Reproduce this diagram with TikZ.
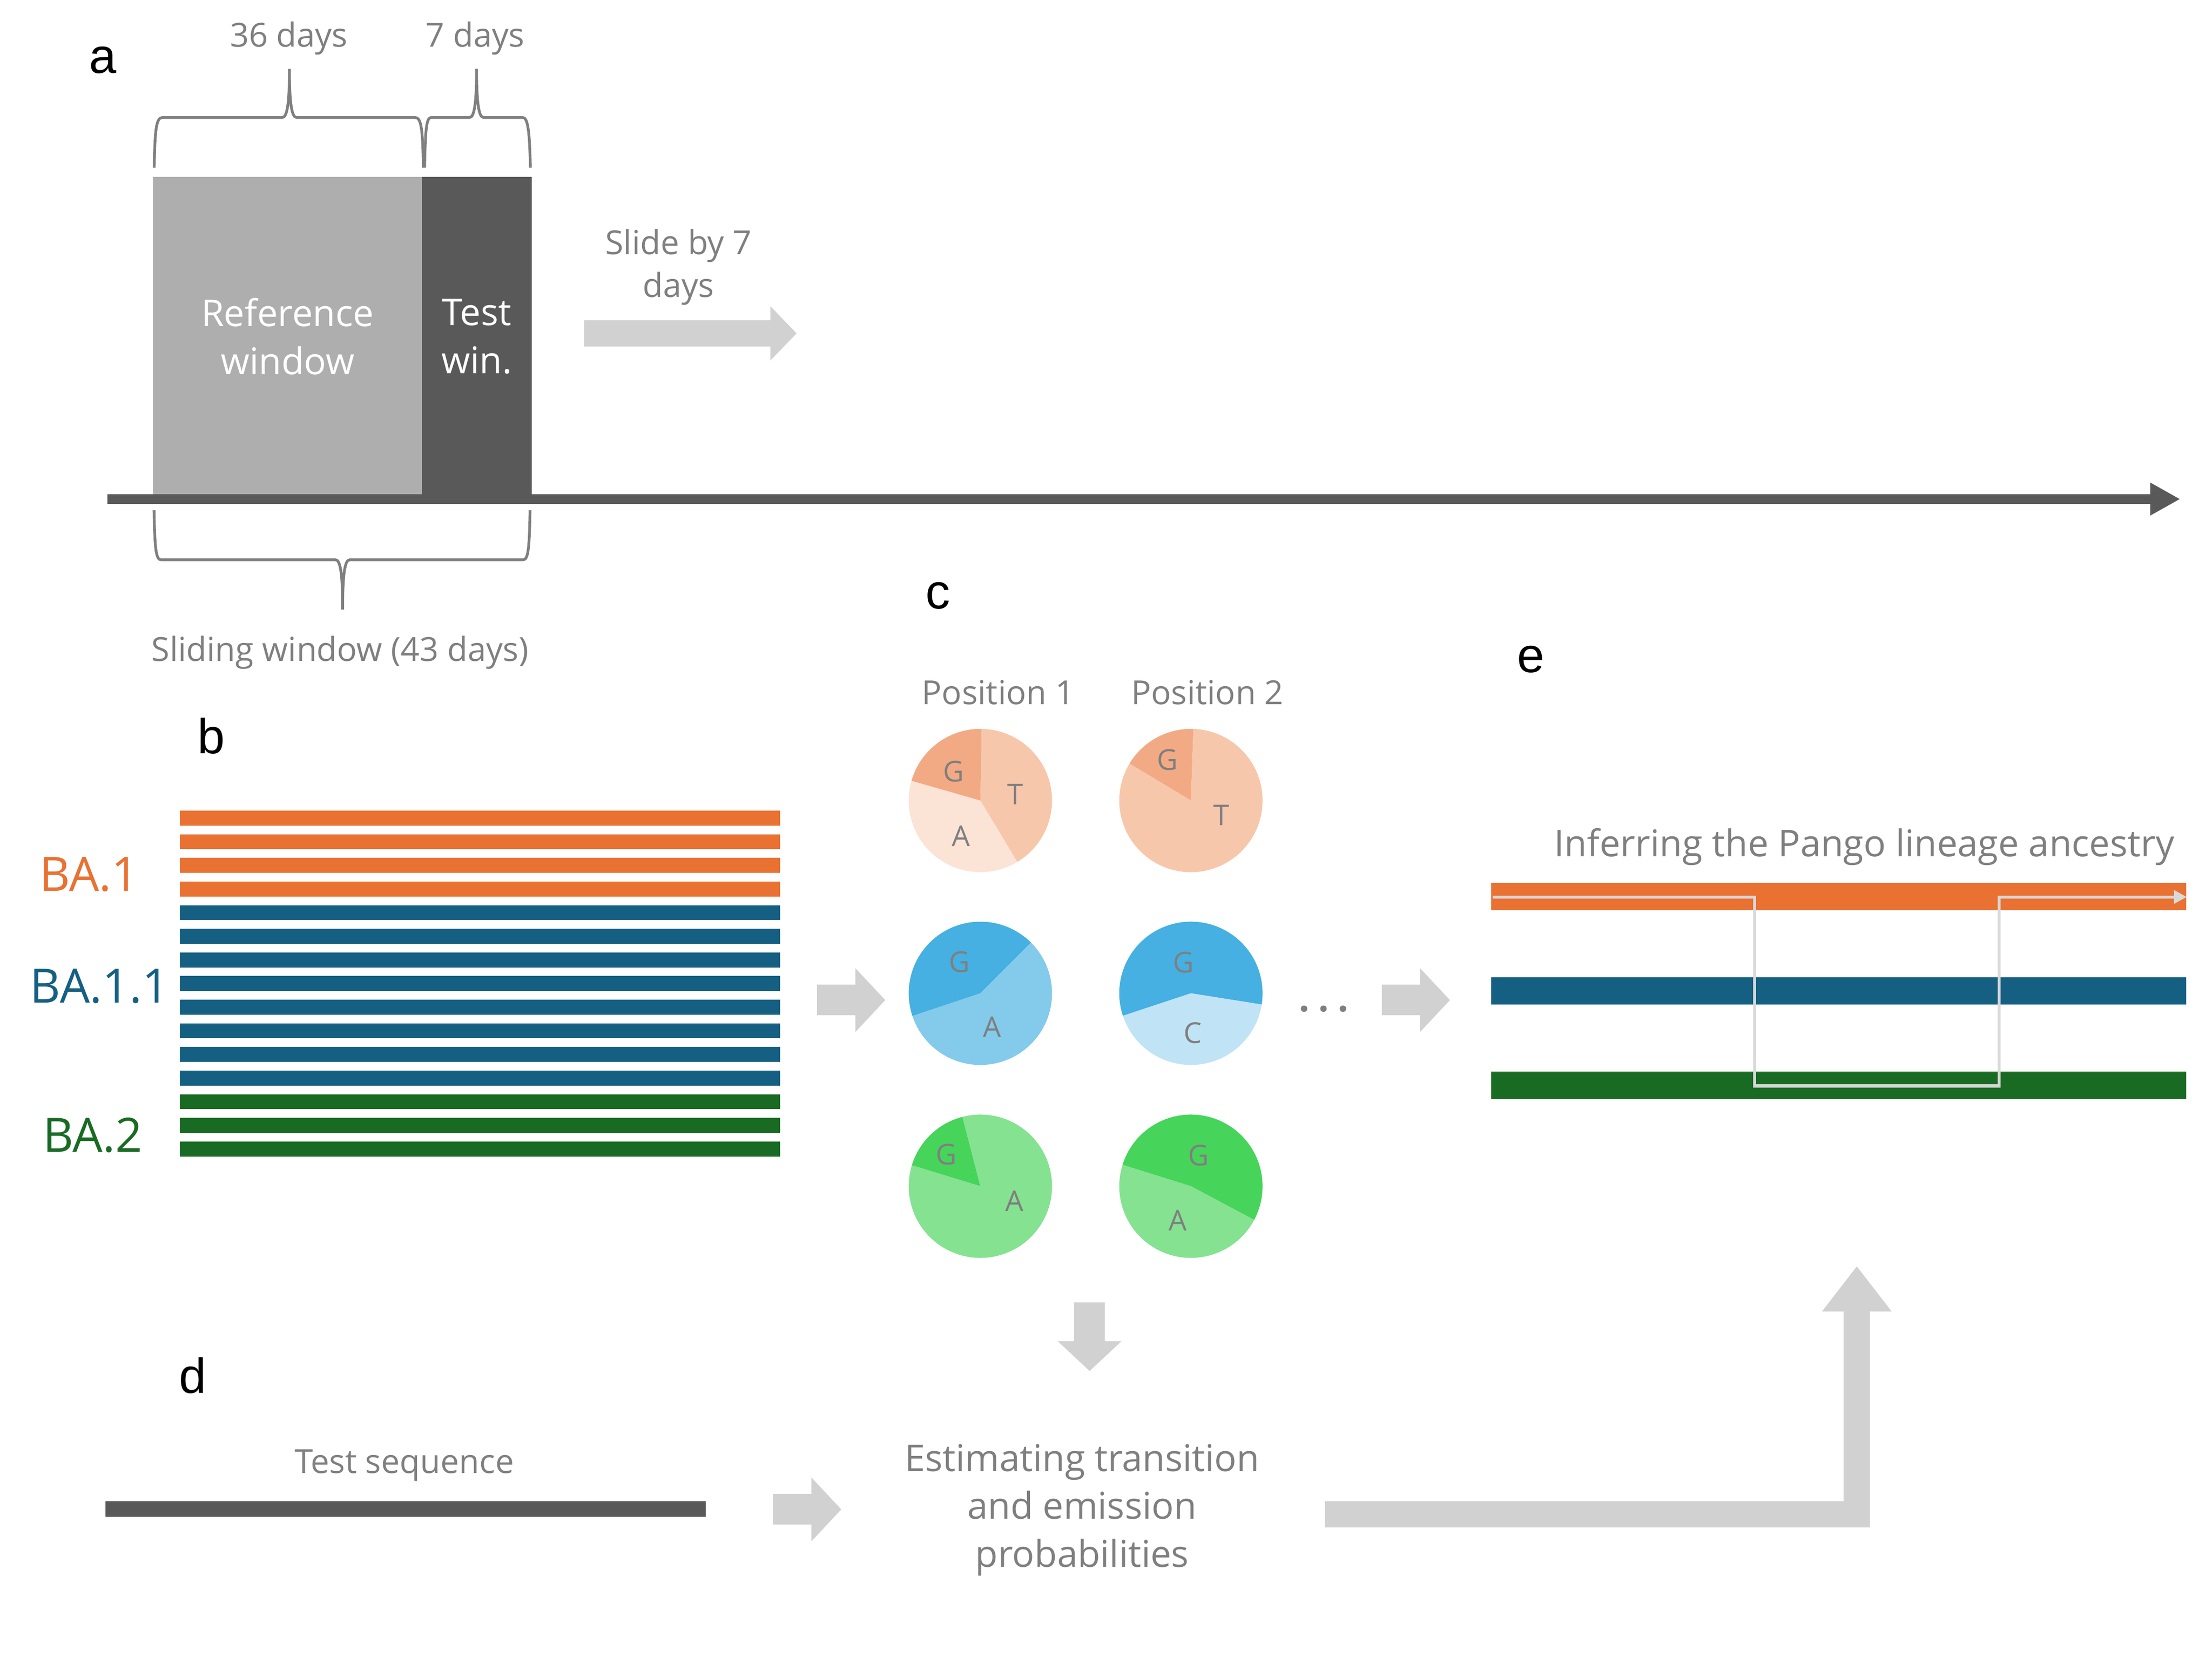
\documentclass[tikz,border=0pt]{standalone}
\usepackage{fontspec}
\setmainfont{Open Sans}
\newfontfamily\panelfont{Liberation Sans}
\usepackage{xcolor}
\usetikzlibrary{arrows.meta}

\definecolor{txtgray}{HTML}{7F7F7F}
\definecolor{winlight}{HTML}{AEAEAE}
\definecolor{windark}{HTML}{595959}
\definecolor{arrowgray}{HTML}{D1D1D1}
\definecolor{pathgray}{HTML}{D9D9D9}
\definecolor{ba1}{HTML}{E97132}
\definecolor{ba11}{HTML}{156082}
\definecolor{ba2}{HTML}{196B24}
\definecolor{or40}{HTML}{F2AA84}
\definecolor{or60}{HTML}{F7C7AC}
\definecolor{or80}{HTML}{FBE3D6}
\definecolor{bl40}{HTML}{45B0E1}
\definecolor{bl60}{HTML}{83CAEB}
\definecolor{bl80}{HTML}{C0E4F5}
\definecolor{gr40}{HTML}{47D45A}
\definecolor{gr60}{HTML}{84E291}

\begin{document}
\begin{tikzpicture}[x=0.2mm, y=-0.2mm,
    graytext/.style={text=txtgray, font=\fontsize{13.3}{17.1}\selectfont, inner sep=0pt, anchor=base},
    bigtext/.style={text=txtgray, font=\fontsize{14.8}{19.2}\selectfont, inner sep=0pt, align=center},
    panel/.style={font=\panelfont\fontsize{19.7}{23}\selectfont, inner sep=0pt, anchor=base},
    lineage/.style={font=\fontsize{19}{22}\selectfont, inner sep=0pt, anchor=base},
    pielabel/.style={text=txtgray, font=\fontsize{11.5}{14}\selectfont, inner sep=0pt},
    winbox/.style={rectangle, minimum height=44.92mm, inner sep=0pt, text=white, align=center, font=\fontsize{14.8}{19.3}\selectfont},
    daybrace/.style={draw=txtgray, line width=1.1pt},
    seqline/.style={line width=6pt},
    lanebar/.style={line width=10.9pt},
    fatarrow/.style={draw=arrowgray, line width=12.3pt, -{Triangle[length=12pt, width=24.9pt]}},
    slidearrow/.style={draw=arrowgray, line width=10.4pt, -{Triangle[length=10.5pt, width=21.1pt]}}
]
    \useasboundingbox (0,0) rectangle (1559.1,1172.7);

    % a: sliding window
    \node[panel] (la) at (72.5,51.4) {a};
    \node[winbox, fill=winlight, minimum width=37.88mm] (refwin) at (202.7,237.1) {Reference\\window};
    \node[winbox, fill=windark, minimum width=15.48mm] (testwin) at (336.1,237.1) {Test\\win.};
    \coordinate (timeS) at (75.7,351.8);
    \coordinate (timeE) at (1536.7,351.8);
    \draw[windark, line width=4pt, -{Triangle[length=12pt, width=12.3pt]}] (timeS) -- (timeE);

    \node[graytext] (d36) at (203.6,33.1) {36 days};
    \node[graytext] (d7) at (334.8,33.1) {7 days};
    \draw[daybrace] (108.7,118.2) .. controls (109.2,90) and (110.2,82.8) .. (114.7,82.8)
        -- (199,82.8) .. controls (202.5,82.8) and (204,72) .. (204,48.5)
        .. controls (204,72) and (205.5,82.8) .. (209,82.8)
        -- (292.4,82.8) .. controls (296.9,82.8) and (297.9,90) .. (298.4,118.2);
    \draw[daybrace] (299.3,118.2) .. controls (299.8,90) and (300.6,82.8) .. (304,82.8)
        -- (331,82.8) .. controls (334.4,82.8) and (335.9,72) .. (335.9,48.5)
        .. controls (335.9,72) and (337.4,82.8) .. (340.8,82.8)
        -- (368.3,82.8) .. controls (371.7,82.8) and (373.3,90) .. (373.8,118.2);
    \draw[daybrace] (108.6,359.7) .. controls (109.1,388) and (110,394.6) .. (113.6,394.6)
        -- (236.5,394.6) .. controls (240,394.6) and (241.5,405) .. (241.5,429.7)
        .. controls (241.5,405) and (243,394.6) .. (246.5,394.6)
        -- (368.6,394.6) .. controls (372.2,394.6) and (373.1,388) .. (373.6,359.7);
    \node[graytext] (slidingwin) at (239.6,466) {Sliding window (43 days)};

    \node[graytext, anchor=center, align=center] (slide) at (478.3,188.4) {Slide by 7\\days};
    \coordinate (slideS) at (411.8,235);
    \coordinate (slideE) at (561.5,235);
    \draw[slidearrow] (slideS) -- (slideE);

    % b: reference sequences
    \node[panel] (lb) at (149,531) {b};
    \foreach \k in {0,...,3}
        \draw[seqline, ba1] (126.8,{576.7+16.66*\k}) -- (549.8,{576.7+16.66*\k});
    \foreach \k in {4,...,11}
        \draw[seqline, ba11] (126.8,{576.7+16.66*\k}) -- (549.8,{576.7+16.66*\k});
    \foreach \k in {12,...,14}
        \draw[seqline, ba2] (126.8,{576.7+16.66*\k}) -- (549.8,{576.7+16.66*\k});
    \node[lineage, text=ba1] (nba1) at (62.8,628) {BA.1};
    \node[lineage, text=ba11] (nba11) at (70.2,707) {BA.1.1};
    \node[lineage, text=ba2] (nba2) at (65.3,812) {BA.2};

    \coordinate (bcS) at (576,705);
    \coordinate (bcE) at (624,705);
    \draw[fatarrow] (bcS) -- (bcE);

    % c: base frequencies per position
    \node[panel] (lc) at (661,429) {c};
    \node[graytext] (pos1) at (703.5,496.5) {Position 1};
    \node[graytext] (pos2) at (851,496.5) {Position 2};
    \foreach \cx/\cy/\sa/\ea/\col in {
        691/564.3/271/419/or60, 691/564.3/59/196/or80, 691/564.3/196/271/or40,
        839.4/564.3/211/272/or40, 839.4/564.3/272/571/or60,
        691/700.2/161.5/315/bl40, 691/700.2/-45/161.5/bl60,
        839.4/700.2/161.7/369/bl40, 839.4/700.2/9/161.7/bl80,
        691/836.2/197/255.5/gr40, 691/836.2/255.5/557/gr60,
        839.4/836.2/197.4/388/gr40, 839.4/836.2/28/197.4/gr60}
        \fill[\col] (\cx,\cy) -- ++(\sa:50.5) arc[start angle=\sa, end angle=\ea, radius=50.5] -- cycle;
    \node[pielabel] (g11) at (672.2,543.7) {G};
    \node[pielabel] (t11) at (715.5,560) {T};
    \node[pielabel] (a11) at (677.4,589.5) {A};
    \node[pielabel] (g12) at (823,535.7) {G};
    \node[pielabel] (t12) at (861,574.5) {T};
    \node[pielabel] (g21) at (676.4,678) {G};
    \node[pielabel] (a21) at (699.2,724) {A};
    \node[pielabel] (g22) at (834.1,678.6) {G};
    \node[pielabel] (c22) at (840.8,728) {C};
    \node[pielabel] (g31) at (666.9,813.8) {G};
    \node[pielabel] (a31) at (715,846.7) {A};
    \node[pielabel] (g32) at (844.7,814.3) {G};
    \node[pielabel] (a32) at (830,860.4) {A};
    \node[graytext, font=\bfseries\fontsize{15}{18}\selectfont] (dots) at (933,713) {.\kern3.5pt.\kern3.5pt.};

    \coordinate (ceS) at (974,705);
    \coordinate (ceE) at (1022,705);
    \draw[fatarrow] (ceS) -- (ceE);
    \coordinate (downS) at (768,918);
    \coordinate (downE) at (768,966.5);
    \draw[fatarrow] (downS) -- (downE);

    % d: test sequence
    \node[panel] (ld) at (136,982) {d};
    \node[graytext] (testseq) at (285,1038.6) {Test sequence};
    \draw[windark, line width=6.2pt] (74.5,1063.7) -- (497.4,1063.7);
    \coordinate (dS) at (544.8,1064);
    \coordinate (dE) at (593,1064);
    \draw[fatarrow] (dS) -- (dE);
    \node[bigtext] (estim) at (762.7,1064.4) {Estimating transition\\and emission\\probabilities};
    \coordinate (upS) at (934,1067.5);
    \coordinate (upE) at (1308.75,892.5);
    \draw[draw=arrowgray, line width=10.6pt, -{Triangle[length=18.2pt, width=26.7pt]}] (upS) -| (upE);

    % e: inferred ancestry
    \node[panel] (le) at (1079,474) {e};
    \node[bigtext, anchor=base] (infer) at (1314,603.8) {Inferring the Pango lineage ancestry};
    \draw[lanebar, ba1] (1051,632.2) -- (1541,632.2);
    \draw[lanebar, ba11] (1051,698.5) -- (1541,698.5);
    \draw[lanebar, ba2] (1051,765) -- (1541,765);
    \coordinate (pathS) at (1052.2,632.3);
    \coordinate (pathE) at (1541.3,632.3);
    \draw[pathgray, line width=1.2pt, -{Triangle[length=5.1pt, width=5.2pt]}]
        (pathS) -- (1236.7,632.3) -- (1236.7,765.5) -- (1409,765.5) -- (1409,632.3) -- (pathE);
\end{tikzpicture}
\end{document}
